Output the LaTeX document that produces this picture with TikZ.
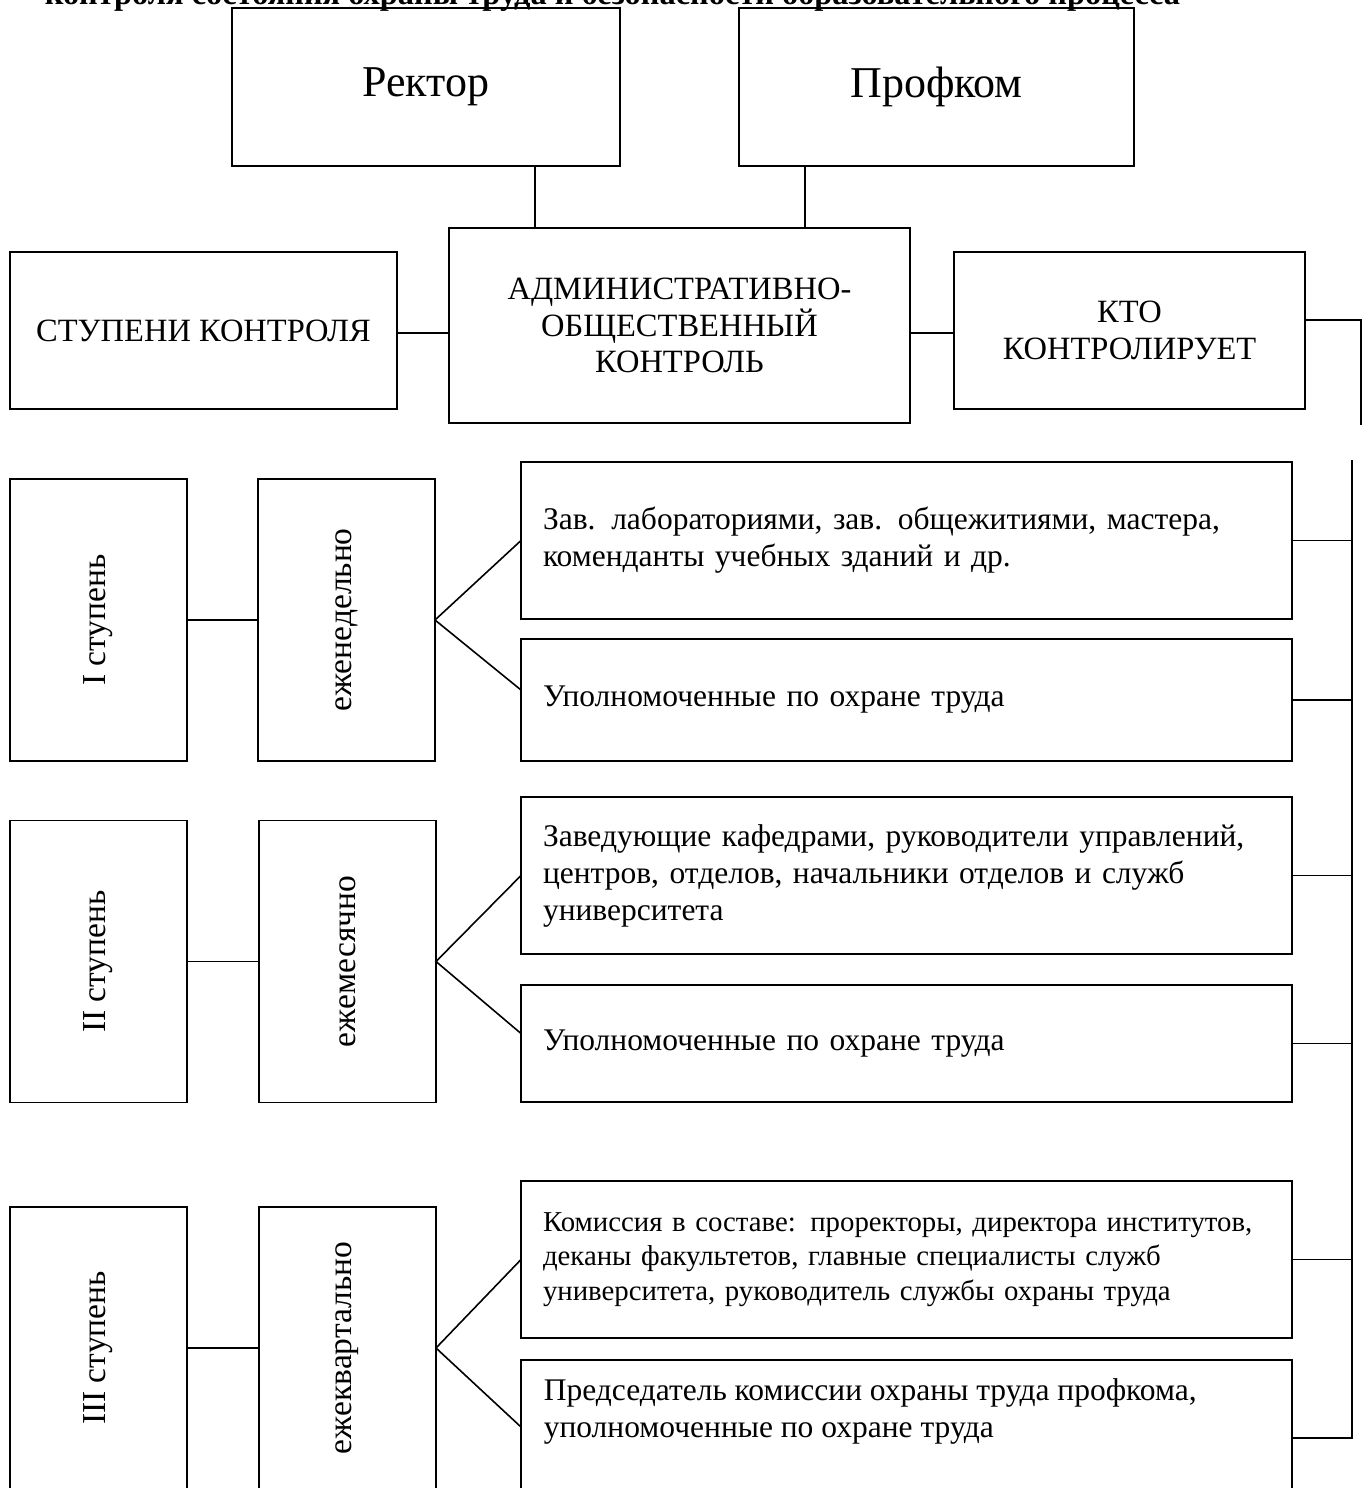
\documentclass[tikz,border=0pt]{standalone}
\usepackage{fontspec}
\setmainfont{Liberation Serif}
\usetikzlibrary{positioning}

\begin{document}
\begin{tikzpicture}[x=1pt,y=-1pt,
		every node/.style={font=\fontsize{31.5}{37}\selectfont},
		box/.style={draw,line width=1.6pt,inner sep=0pt,outer sep=0pt},
		topbox/.style={box,font=\fontsize{44}{50}\selectfont},
		capbox/.style={box,align=center,font=\fontsize{32.5}{36.5}\selectfont},
		rbox/.style={box,text width=727pt,inner xsep=22pt,align=left},
		lbox/.style={box,rotate=90,minimum width=282pt,minimum height=177pt,font=\fontsize{33.5}{38}\selectfont},
		line width=1.6pt]
		\clip (0,0) rectangle (1366,1488);
		\node[anchor=base west,inner sep=0pt,font=\bfseries\fontsize{32.4}{38}\selectfont] (title) at (44,5) {контроля состояния охраны труда и безопасности образовательного процесса};
		
		\node[topbox,minimum width=388pt,minimum height=158pt] (rektor) at (426,87) {Ректор};
		\node[topbox,minimum width=395pt,minimum height=158pt] (profkom) at (936.5,87) {Профком};
		\node[capbox,minimum width=461pt,minimum height=195pt] (adm) at (679.5,325.5) {АДМИНИСТРАТИВНО-\\ОБЩЕСТВЕННЫЙ\\КОНТРОЛЬ};
		\node[capbox,minimum width=387pt,minimum height=157pt] (stup) at (203.5,330.5) {СТУПЕНИ КОНТРОЛЯ};
		\node[capbox,minimum width=351pt,minimum height=157pt] (kto) at (1129.5,330.5) {КТО\\КОНТРОЛИРУЕТ};
		
		\draw ([xshift=109pt]rektor.south) -- ([xshift=109pt]rektor.south |- adm.north);
		\draw ([xshift=-131.5pt]profkom.south) -- ([xshift=-131.5pt]profkom.south |- adm.north);
		\draw ([yshift=-2.5pt]stup.east) -- ([yshift=-2.5pt]stup.east -| adm.west);
		\draw ([yshift=-2.5pt]kto.west) -- ([yshift=-2.5pt]kto.west -| adm.east);
		\coordinate (up) at (1361,425);
		\draw ([yshift=10.5pt]kto.east) -| (up);
		
		\node[lbox] (s1) at (98.5,620) {I ступень};
		\node[lbox] (f1) at (346.5,620) {еженедельно};
		\node[lbox] (s2) at (98.5,961.5) {II ступень};
		\node[lbox] (f2) at (347.5,961.5) {ежемесячно};
		\node[lbox] (s3) at (98.5,1348) {III ступень};
		\node[lbox] (f3) at (347.5,1348) {ежеквартально};
		
		\node[rbox,minimum height=157pt] (b1) at (906.5,540.5) {Зав. лабораториями, зав. общежитиями, мастера,\\коменданты учебных зданий и др.};
		\node[rbox,minimum height=122pt] (b2) at (906.5,700) {Уполномоченные по охране труда};
		\node[rbox,minimum height=157pt] (b3) at (906.5,875.5) {Заведующие кафедрами, руководители управлений,\\центров, отделов, начальники отделов и служб\\университета};
		\node[rbox,minimum height=117pt] (b4) at (906.5,1043.5) {Уполномоченные по охране труда};
		\node[rbox,minimum height=157pt,font=\fontsize{28.8}{34.5}\selectfont] (b5) at (906.5,1259.5) {Комиссия в составе: проректоры, директора институтов,\\деканы факультетов, главные специалисты служб\\университета, руководитель службы охраны труда};
		\node[rbox,minimum height=156pt] (b6) at (906.5,1438) {};
		\node[anchor=west,align=left,inner sep=0pt] (t6) at ([xshift=22pt,yshift=27pt]b6.west) {Председатель комиссии охраны труда профкома,\\уполномоченные по охране труда};
		
		\foreach \i in {1,2,3}{
			\draw (s\i) -- (f\i);
		}
		\draw (b1.west) -- (f1.south) -- ([yshift=10pt]b2.west);
		\draw (b3.west) -- (f2.south) -- ([yshift=10pt]b4.west);
		\draw (b5.west) -- (f3.south) -- ([yshift=11pt]b6.west);
		
		\coordinate (bus) at (1352,460);
		\draw (bus) -- (bus |- b6.east) -- (b6.east);
		\foreach \b in {b1,b2,b3,b4,b5}{
			\draw (\b.east) -- (\b.east -| bus);
		}
\end{tikzpicture}
\end{document}
